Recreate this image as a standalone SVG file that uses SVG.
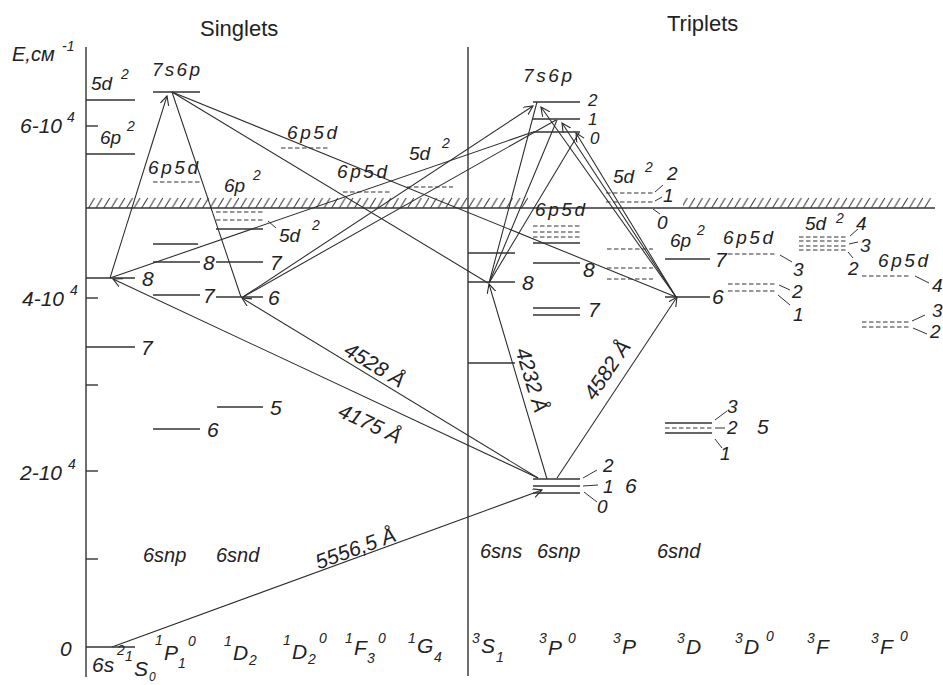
<svg xmlns="http://www.w3.org/2000/svg" width="943" height="685" viewBox="0 0 943 685">
<style>
.lv{stroke:#333;stroke-width:1.4;fill:none}
.ds{stroke:#333;stroke-width:1.2;stroke-dasharray:4.5 2.5;fill:none}
.tk{stroke:#333;stroke-width:1;fill:none}
.tr{stroke:#2a2a2a;stroke-width:1.05;fill:none}
.ar{marker-end:url(#ah)}
text{font-family:"Liberation Sans",Arial,sans-serif;font-style:italic;fill:#222;font-size:19px}
.n{font-size:21px}
.s{font-size:14px}
.j{font-size:17px}
.h{font-style:normal;font-size:22px}
</style>
<defs>
<marker id="ah" markerWidth="10" markerHeight="10" refX="9" refY="4.5" orient="auto" markerUnits="userSpaceOnUse">
<path d="M0,0 L9,4.5 L0,9" fill="none" stroke="#2a2a2a" stroke-width="1.1"/>
</marker>
<pattern id="hatch" width="7.6" height="11" patternUnits="userSpaceOnUse" x="88" y="197">
<line x1="0.5" y1="11" x2="6.5" y2="1" stroke="#333" stroke-width="1"/>
</pattern>
</defs>
<rect width="943" height="685" fill="#fff"/>

<g id="axis">
<line class="lv" x1="86" y1="47" x2="86" y2="677"/>
<line class="lv" x1="468" y1="47" x2="468" y2="676"/>
<line class="lv" x1="86" y1="126" x2="98" y2="126"/>
<line class="lv" x1="86" y1="298" x2="98" y2="298"/>
<line class="lv" x1="86" y1="385" x2="98" y2="385"/>
<line class="lv" x1="86" y1="471" x2="98" y2="471"/>
<line class="lv" x1="86" y1="559" x2="98" y2="559"/>
<text x="12" y="61" style="font-size:20px">E,см</text><text class="s" x="62" y="51">-1</text>
<text class="n" x="20" y="133">6-10</text><text class="s" x="67" y="122">4</text>
<text class="n" x="22" y="306">4-10</text><text class="s" x="70" y="295">4</text>
<text class="n" x="20" y="480">2-10</text><text class="s" x="68" y="469">4</text>
<text class="n" x="60" y="656">0</text>
<text class="h" x="200" y="36">Singlets</text>
<text class="h" x="667" y="31">Triplets</text>
</g>

<g id="ionization-limit">
<rect x="88" y="197" width="440" height="11" fill="url(#hatch)"/>
<rect x="683" y="197" width="248" height="11" fill="url(#hatch)"/>
<line class="lv" x1="86" y1="208" x2="935" y2="208"/>
</g>

<g id="connectors">
<line class="tr ar" x1="112" y1="647" x2="542" y2="490"/>
<line class="tr ar" x1="538" y1="478" x2="113" y2="279"/>
<line class="tr ar" x1="538" y1="478" x2="242" y2="298"/>
<line class="tr ar" x1="547" y1="479" x2="489" y2="284"/>
<line class="tr ar" x1="557" y1="478" x2="677" y2="297"/>
<line class="tr ar" x1="110" y1="278" x2="167" y2="96"/>
<line class="tr" x1="172" y1="92" x2="241" y2="297"/>
<line class="tr" x1="172" y1="92" x2="488" y2="283"/>
<line class="tr" x1="172" y1="92" x2="676" y2="297"/>
<line class="tr" x1="110" y1="278" x2="533" y2="132"/>
<line class="tr ar" x1="243" y1="297" x2="533" y2="106"/>
<line class="tr" x1="243" y1="297" x2="556" y2="120"/>
<line class="tr" x1="489" y1="283" x2="537" y2="102"/>
<line class="tr" x1="489" y1="283" x2="557" y2="120"/>
<line class="tr" x1="489" y1="283" x2="579" y2="133"/>
<line class="tr ar" x1="676" y1="297" x2="541" y2="107"/>
<line class="tr ar" x1="676" y1="297" x2="562" y2="123"/>
<line class="tr ar" x1="676" y1="297" x2="576" y2="133"/>
<text class="n" transform="rotate(-20 358 555)" x="358" y="555" text-anchor="middle">5556,5 Å</text>
<text class="n" transform="rotate(25.1 367 430)" x="367" y="430" text-anchor="middle">4175 Å</text>
<text class="n" transform="rotate(31.3 371 371)" x="371" y="371" text-anchor="middle">4528 Å</text>
<text class="n" transform="rotate(73 525 382)" x="525" y="382" text-anchor="middle">4232 Å</text>
<text class="n" transform="rotate(-56 613 374)" x="613" y="374" text-anchor="middle">4582 Å</text>
</g>

<g id="S0-levels">
<line class="lv" x1="86" y1="100" x2="135" y2="100"/><text x="91" y="90">5d</text><text class="s" x="121" y="79">2</text>
<line class="lv" x1="86" y1="154" x2="135" y2="154"/><text x="100" y="144">6p</text><text class="s" x="127" y="131">2</text>
<line class="lv" x1="86" y1="278" x2="135" y2="278"/><text class="n" x="142" y="286">8</text>
<line class="lv" x1="86" y1="347" x2="135" y2="347"/><text class="n" x="141" y="355">7</text>
<line class="lv" x1="86" y1="647" x2="135" y2="647"/>
</g>

<g id="P1-levels">
<line class="lv" x1="153" y1="92" x2="200" y2="92"/><text x="152" y="76" textLength="48">7s6p</text>
<line class="ds" x1="153" y1="182" x2="200" y2="182"/><text x="148" y="174" textLength="50">6p5d</text>
<line class="lv" x1="153" y1="244" x2="198" y2="244"/>
<line class="lv" x1="153" y1="262" x2="200" y2="262"/><text class="n" x="203" y="270">8</text>
<line class="lv" x1="153" y1="295" x2="200" y2="295"/><text class="n" x="203" y="303">7</text>
<line class="lv" x1="153" y1="429" x2="200" y2="429"/><text class="n" x="207" y="437">6</text>
</g>

<g id="D2-levels">
<text x="224" y="192">6p</text><text class="s" x="253" y="180">2</text>
<line class="ds" x1="216" y1="212" x2="263" y2="212"/>
<line class="ds" x1="216" y1="220" x2="263" y2="220"/>
<line class="lv" x1="216" y1="229" x2="263" y2="229"/>
<line class="tk" x1="268" y1="221" x2="276" y2="228"/>
<text x="279" y="242">5d</text><text class="s" x="312" y="230">2</text>
<line class="lv" x1="216" y1="262" x2="263" y2="262"/><text class="n" x="270" y="270">7</text>
<line class="lv" x1="216" y1="297" x2="263" y2="297"/><text class="n" x="268" y="305">6</text>
<line class="lv" x1="217" y1="407" x2="263" y2="407"/><text class="n" x="270" y="415">5</text>
</g>

<g id="D2o-levels">
<line class="ds" x1="281" y1="148" x2="328" y2="148"/><text x="287" y="139" textLength="50">6p5d</text>
</g>
<g id="F3o-levels">
<line class="ds" x1="343" y1="192" x2="390" y2="192"/><text x="337" y="178" textLength="50">6p5d</text>
</g>
<g id="G4-levels">
<line class="ds" x1="407" y1="187" x2="453" y2="187"/><text x="409" y="160">5d</text><text class="s" x="442" y="148">2</text>
</g>

<g id="S1-levels">
<line class="lv" x1="468" y1="253" x2="515" y2="253"/>
<line class="lv" x1="468" y1="282" x2="515" y2="282"/><text class="n" x="522" y="290">8</text>
<line class="lv" x1="468" y1="363" x2="515" y2="363"/>
</g>

<g id="P0-levels">
<text x="523" y="82" textLength="49">7s6p</text>
<line class="lv" x1="533" y1="102" x2="580" y2="102"/><text class="j" x="588" y="106">2</text>
<line class="lv" x1="533" y1="119" x2="580" y2="119"/><text class="j" x="588" y="125">1</text>
<line class="lv" x1="533" y1="132" x2="580" y2="132"/><text class="j" x="590" y="144">0</text>
<text x="535" y="216" textLength="50">6p5d</text>
<line class="ds" x1="533" y1="226" x2="580" y2="226"/>
<line class="ds" x1="533" y1="232" x2="580" y2="232"/>
<line class="ds" x1="533" y1="237" x2="580" y2="237"/>
<line class="lv" x1="533" y1="243" x2="580" y2="243"/>
<line class="lv" x1="533" y1="263" x2="580" y2="263"/><text class="n" x="583" y="277">8</text>
<line class="lv" x1="533" y1="308" x2="580" y2="308"/>
<line class="lv" x1="533" y1="315" x2="580" y2="315"/><text class="n" x="588" y="317">7</text>
<line class="lv" x1="533" y1="479" x2="580" y2="479"/>
<line class="lv" x1="533" y1="486" x2="580" y2="486"/>
<line class="lv" x1="533" y1="493" x2="580" y2="493"/>
<line class="tk" x1="583" y1="478" x2="597" y2="470"/><text x="603" y="472">2</text>
<line class="tk" x1="583" y1="486" x2="598" y2="485"/><text x="603" y="493">1</text>
<line class="tk" x1="584" y1="492" x2="597" y2="502"/><text x="597" y="513">0</text>
<text class="n" x="625" y="493">6</text>
</g>

<g id="P-levels">
<text x="613" y="183">5d</text><text class="s" x="645" y="172">2</text>
<line class="ds" x1="606" y1="193" x2="653" y2="193"/>
<line class="ds" x1="606" y1="202" x2="653" y2="202"/>
<line class="tk" x1="655" y1="192" x2="663" y2="185"/><text x="667" y="180">2</text>
<line class="tk" x1="655" y1="201" x2="662" y2="197"/><text x="663" y="202">1</text>
<line class="tk" x1="653" y1="209" x2="660" y2="214"/><text x="657" y="229">0</text>
<line class="ds" x1="607" y1="249" x2="653" y2="249"/>
<line class="ds" x1="607" y1="268" x2="653" y2="268"/>
<line class="ds" x1="607" y1="279" x2="653" y2="279"/>
</g>

<g id="D-levels">
<text x="670" y="247">6p</text><text class="s" x="697" y="235">2</text>
<line class="lv" x1="665" y1="259" x2="710" y2="259"/><text class="n" x="715" y="267">7</text>
<line class="lv" x1="665" y1="297" x2="710" y2="297"/><text class="n" x="712" y="304">6</text>
<line class="lv" x1="665" y1="423" x2="712" y2="423"/>
<line class="ds" x1="665" y1="428" x2="712" y2="428"/>
<line class="lv" x1="665" y1="433" x2="712" y2="433"/>
<line class="tk" x1="715" y1="420" x2="727" y2="411"/><text x="727" y="413">3</text>
<line class="tk" x1="715" y1="428" x2="725" y2="428"/><text x="727" y="434">2</text>
<line class="tk" x1="715" y1="439" x2="722" y2="448"/><text x="720" y="460">1</text>
<text class="n" x="757" y="434">5</text>
</g>

<g id="Do-levels">
<text x="723" y="244" textLength="50">6p5d</text>
<line class="ds" x1="728" y1="254" x2="775" y2="254"/>
<line class="ds" x1="728" y1="284" x2="775" y2="284"/>
<line class="ds" x1="728" y1="291" x2="775" y2="291"/>
<line class="tk" x1="780" y1="255" x2="792" y2="262"/><text x="793" y="276">3</text>
<line class="tk" x1="779" y1="285" x2="790" y2="290"/><text x="792" y="298">2</text>
<line class="tk" x1="778" y1="295" x2="790" y2="305"/><text x="793" y="321">1</text>
</g>

<g id="F-levels">
<text x="805" y="230">5d</text><text class="s" x="836" y="223">2</text>
<line class="ds" x1="799" y1="237" x2="847" y2="237"/>
<line class="ds" x1="799" y1="241" x2="847" y2="241"/>
<line class="ds" x1="799" y1="246" x2="847" y2="246"/>
<line class="ds" x1="799" y1="250" x2="847" y2="250"/>
<line class="tk" x1="850" y1="236" x2="858" y2="229"/><text x="856" y="230">4</text>
<line class="tk" x1="849" y1="244" x2="858" y2="242"/><text x="860" y="252">3</text>
<line class="tk" x1="848" y1="252" x2="853" y2="258"/><text x="848" y="275">2</text>
</g>

<g id="Fo-levels">
<text x="878" y="267" textLength="50">6p5d</text>
<line class="ds" x1="862" y1="276" x2="910" y2="276"/>
<line class="tk" x1="915" y1="276" x2="929" y2="283"/><text x="932" y="292">4</text>
<line class="ds" x1="862" y1="322" x2="910" y2="322"/>
<line class="ds" x1="862" y1="327" x2="910" y2="327"/>
<line class="tk" x1="912" y1="321" x2="925" y2="315"/><text x="932" y="317">3</text>
<line class="tk" x1="913" y1="328" x2="927" y2="334"/><text x="930" y="338">2</text>
</g>

<g id="series-labels">
<text x="143" y="562" style="font-size:20px">6snp</text>
<text x="216" y="562" style="font-size:20px">6snd</text>
<text x="480" y="558" style="font-size:20px">6sns</text>
<text x="537" y="558" style="font-size:20px">6snp</text>
<text x="657" y="558" style="font-size:20px">6snd</text>
</g>

<g id="term-labels">
<text x="92" y="672" class="n">6s</text><text class="s" x="117" y="655">2</text>
<text class="s" x="125" y="661">1</text><text class="n" x="134" y="676">S</text><text class="s" x="149" y="681" style="font-size:12px">0</text>
<text class="s" x="155" y="645">1</text><text class="n" x="164" y="660">P</text><text class="s" x="178" y="668">1</text><text class="s" x="188" y="646">0</text>
<text class="s" x="224" y="646">1</text><text class="n" x="233" y="660">D</text><text class="s" x="249" y="665">2</text>
<text class="s" x="283" y="645">1</text><text class="n" x="292" y="659">D</text><text class="s" x="308" y="664">2</text><text class="s" x="319" y="643">0</text>
<text class="s" x="345" y="643">1</text><text class="n" x="354" y="655">F</text><text class="s" x="367" y="663">3</text><text class="s" x="378" y="643">0</text>
<text class="s" x="408" y="643">1</text><text class="n" x="417" y="653">G</text><text class="s" x="434" y="662">4</text>
<text class="s" x="472" y="643">3</text><text class="n" x="481" y="653">S</text><text class="s" x="496" y="662">1</text>
<text class="s" x="539" y="643">3</text><text class="n" x="548" y="655">P</text><text class="s" x="568" y="643">0</text>
<text class="s" x="613" y="643">3</text><text class="n" x="622" y="654">P</text>
<text class="s" x="677" y="643">3</text><text class="n" x="686" y="654">D</text>
<text class="s" x="735" y="643">3</text><text class="n" x="744" y="654">D</text><text class="s" x="766" y="641">0</text>
<text class="s" x="807" y="643">3</text><text class="n" x="816" y="654">F</text>
<text class="s" x="871" y="643">3</text><text class="n" x="880" y="654">F</text><text class="s" x="900" y="641">0</text>
</g>
</svg>
